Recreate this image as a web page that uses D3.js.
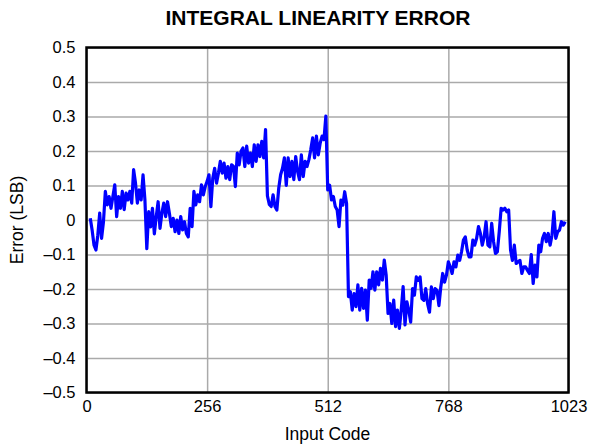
<!DOCTYPE html>
<html>
<head>
<meta charset="utf-8">
<script src="https://cdn.jsdelivr.net/npm/d3@7"></script>
<style>
  body { margin: 0; background: #fff; }
  svg text { font-family: "Liberation Sans", Arial, sans-serif; }
  .grid line { stroke: #aaaaaa; stroke-width: 1.5; }
  .grid .domain { display: none; }
</style>
</head>
<body>
<div id="chart"></div>
<script>
// ---- data ----
var xTicks = [0, 256, 512, 768, 1023];
var yTicks = [-0.5, -0.4, -0.3, -0.2, -0.1, 0, 0.1, 0.2, 0.3, 0.4, 0.5];

// sample codes: every 4th code from 8 to 1016
var codeStart = 8, codeStep = 4;

var ileValues = [
  0.005, -0.03, -0.073, -0.087, -0.044, 0.02, -0.053, -0.005, 0.083, 0.044,   // 8..44
  0.068, 0.034, 0.068, 0.102, 0.01, 0.068, 0.034, 0.083, 0.03, 0.078,          // 48..84
  0.058, 0.083, 0.049, 0.146, 0.107, 0.049, 0.087, 0.058, 0.131, 0.058,        // 88..124
  -0.083, 0.024, -0.02, 0.034, -0.04, 0.01, 0.053, -0.024, 0.02, 0.049,        // 128..164
  0.01, 0.053, 0.019, -0.019, 0.005, -0.034, 0, -0.039, 0.01, -0.029,          // 168..204
  -0.005, -0.039, -0.049, 0.034, -0.019, 0.083, 0.044, 0.073, 0.053, 0.102,    // 208..244
  0.073, 0.097, 0.112, 0.131, 0.039, 0.121, 0.15, 0.107, 0.136, 0.17,          // 248..284
  0.136, 0.165, 0.121, 0.155, 0.117, 0.16, 0.155, 0.097, 0.194, 0.16,          // 288..324
  0.199, 0.209, 0.155, 0.214, 0.165, 0.194, 0.155, 0.218, 0.17, 0.218,         // 328..364
  0.184, 0.228, 0.18, 0.262, 0.07, 0.045, 0.039, 0.073, 0.039, 0.029,          // 368..404
  0.092, 0.131, 0.15, 0.18, 0.1, 0.18, 0.126, 0.17, 0.117, 0.184,              // 408..444
  0.141, 0.117, 0.189, 0.126, 0.17, 0.155, 0.175, 0.204, 0.238, 0.18,          // 448..484
  0.243, 0.189, 0.223, 0.243, 0.233, 0.301, 0.087, 0.101, 0.058, 0.068,        // 488..524
  0.039, 0.029, -0.019, 0.058, 0.043, 0.082, 0.048, -0.222, -0.208, -0.261,    // 528..564
  -0.213, -0.251, -0.188, -0.261, -0.198, -0.256, -0.203, -0.29, -0.174, -0.198, // 568..604
  -0.15, -0.203, -0.15, -0.188, -0.14, -0.174, -0.116, -0.159, -0.271, -0.242, // 608..644
  -0.3, -0.232, -0.309, -0.261, -0.314, -0.261, -0.193, -0.304, -0.237, -0.262, // 648..684
  -0.296, -0.199, -0.218, -0.165, -0.175, -0.165, -0.228, -0.233, -0.199, -0.243, // 688..724
  -0.267, -0.194, -0.228, -0.199, -0.204, -0.248, -0.194, -0.155, -0.18, -0.16, // 728..764
  -0.121, -0.136, -0.155, -0.121, -0.136, -0.102, -0.117, -0.092, -0.058, -0.049, // 768..804
  -0.087, -0.107, -0.107, -0.058, -0.073, -0.053, -0.019, -0.039, -0.073, -0.049, // 808..844
  -0.005, -0.073, -0.078, -0.01, -0.063, -0.097, -0.092, -0.034, 0.034, 0.029,  // 848..884
  0.034, 0.024, 0.029, -0.087, -0.117, -0.073, -0.126, -0.121, -0.117, -0.155,  // 888..924
  -0.136, -0.136, -0.146, -0.155, -0.1, -0.184, -0.131, -0.165, -0.073, -0.092, // 928..964
  -0.053, -0.039, -0.063, -0.039, -0.073, -0.044, 0.024, -0.053, -0.034, -0.029, // 968..1004
  -0.005, -0.015, -0.005                                                        // 1008..1016
];

var data = ileValues.map(function(v, i) {
    return { code: codeStart + i * codeStep, err: v };
});

// ---- layout ----
var W = 590, H = 446;
var margin = {top: 47.5, right: 21.5, bottom: 53.5, left: 86.5};
var width = W - margin.left - margin.right;
var height = H - margin.top - margin.bottom;

var svg = d3.select("#chart").append("svg")
    .attr("width", W)
    .attr("height", H);

var g = svg.append("g")
    .attr("transform", "translate(" + margin.left + "," + margin.top + ")");

var x = d3.scaleLinear().domain([0, 1023]).range([0, width]);
var y = d3.scaleLinear().domain([-0.5, 0.5]).range([height, 0]);

// gridlines
g.append("g")
    .attr("class", "grid")
    .call(d3.axisLeft(y).tickValues(yTicks).tickSize(-width).tickFormat(""));
g.append("g")
    .attr("class", "grid")
    .attr("transform", "translate(0," + height + ")")
    .call(d3.axisBottom(x).tickValues(xTicks).tickSize(-height).tickFormat(""));

// the line
var line = d3.line()
    .x(function(d) { return x(d.code); })
    .y(function(d) { return y(d.err); });

g.append("path")
    .datum(data)
    .attr("fill", "none")
    .attr("stroke", "#0000ff")
    .attr("stroke-width", 3.2)
    .attr("stroke-linejoin", "round")
    .attr("d", line);

// frame
g.append("rect")
    .attr("width", width)
    .attr("height", height)
    .attr("fill", "none")
    .attr("stroke", "#000")
    .attr("stroke-width", 2.5);

// tick labels
function fmt(v) {
    var s = d3.format(".1f")(Math.abs(v));
    if (v === 0) return "0";
    return (v < 0 ? "\u2013" : "") + s;
}

var yAxis = g.append("g")
    .call(d3.axisLeft(y).tickValues(yTicks).tickSize(0).tickPadding(11).tickFormat(fmt));
yAxis.select(".domain").remove();
yAxis.selectAll("text").style("font-size", "16.5px").attr("fill", "#000");

var xAxis = g.append("g")
    .attr("transform", "translate(0," + height + ")")
    .call(d3.axisBottom(x).tickValues(xTicks).tickSize(0).tickPadding(8).tickFormat(d3.format("d")));
xAxis.select(".domain").remove();
xAxis.selectAll("text").style("font-size", "16.5px").attr("fill", "#000");

// titles
svg.append("text")
    .attr("x", 318)
    .attr("y", 25)
    .attr("text-anchor", "middle")
    .style("font-size", "21px")
    .style("font-weight", "bold")
    .text("INTEGRAL LINEARITY ERROR");

svg.append("text")
    .attr("x", margin.left + width / 2)
    .attr("y", 440)
    .attr("text-anchor", "middle")
    .style("font-size", "17.5px")
    .text("Input Code");

svg.append("text")
    .attr("transform", "translate(23," + (margin.top + height / 2) + ") rotate(-90)")
    .attr("text-anchor", "middle")
    .style("font-size", "17.5px")
    .text("Error (LSB)");
</script>
</body>
</html>
